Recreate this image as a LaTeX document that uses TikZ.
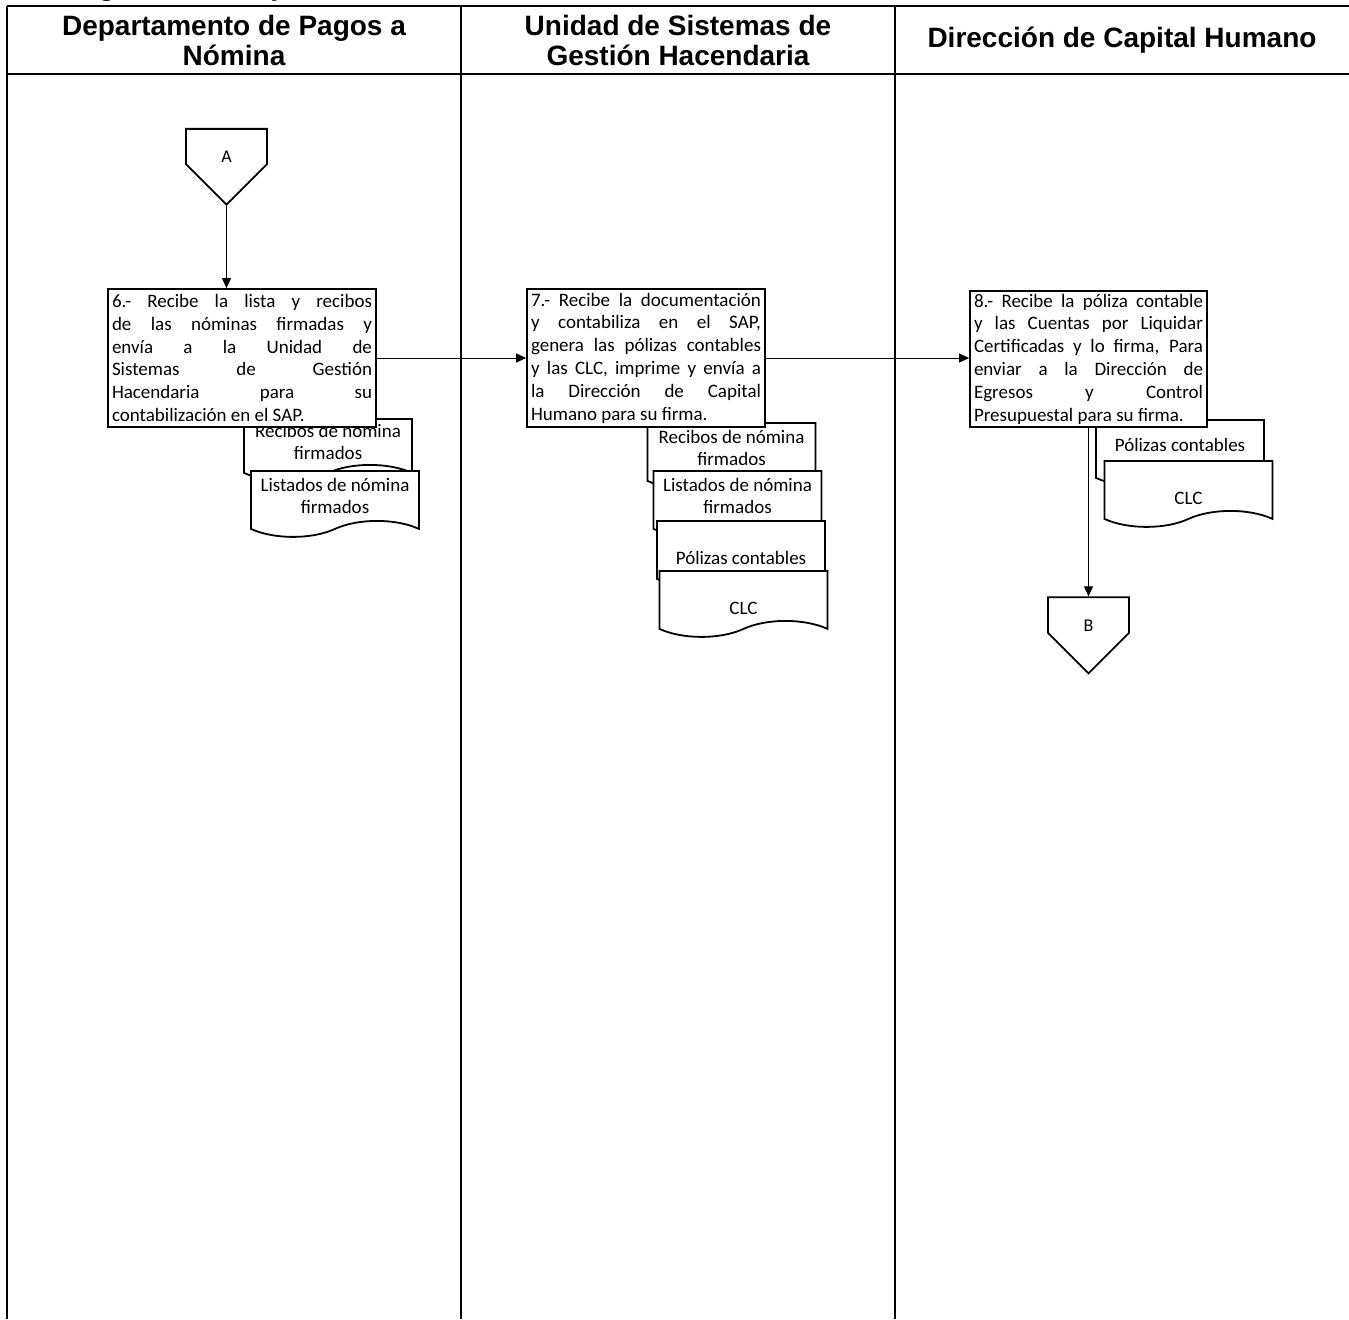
\documentclass[tikz,border=0pt]{standalone}
\usepackage{fontspec}
\setmainfont{Carlito}
\newfontfamily\headfont{Liberation Sans}
\usetikzlibrary{arrows.meta,shapes.symbols}

\begin{document}
\begin{tikzpicture}[x=0.5pt,y=-0.5pt]
\tikzset{
  lanehead/.style={font=\headfont\bfseries\fontsize{14}{15}\selectfont,align=center,inner sep=0pt},
  lanerule/.style={draw=black,line width=1pt},
  procbox/.style={rectangle,draw=black,fill=white,line width=0.9pt,inner xsep=2pt,inner ysep=0.5pt,align=justify,font=\fontsize{9.5}{11.4}\selectfont},
  docnode/.style={tape,draw=black,fill=white,line width=0.9pt,tape bend top=none,tape bend bottom=in and out,tape bend height=8pt,minimum width=84pt,minimum height=33pt,inner sep=1pt,align=center,anchor=north,font=\fontsize{9.5}{11}\selectfont},
  doclow/.style={text height=18.5pt,text depth=0pt},
  offpage/.style={signal,signal to=south,signal pointer angle=90,draw=black,fill=white,line width=0.9pt,minimum width=40.5pt,minimum height=20.25pt,inner sep=0pt,text height=16pt,text depth=0pt,font=\fontsize{9}{10}\selectfont},
  flow/.style={draw=black,line width=0.5pt,-{Triangle[length=5pt,width=4.5pt]}}
}
\fill[white] (0,0) rectangle (1349,1319);
\useasboundingbox (0,0) rectangle (1349,1319);
% swimlane frame
\node[lanehead,anchor=base west] (title) at (14,-4.5) {5.- Diagrama de Flujo};
\draw[lanerule] (7,6) -- (1349,6);
\draw[lanerule] (7,74) -- (1349,74);
\draw[lanerule] (7,6) -- (7,1319);
\draw[lanerule] (461,6) -- (461,1319);
\draw[lanerule] (895,6) -- (895,1319);
\node[lanehead] (h_pagos) at (234,40) {Departamento de Pagos a\\N\'omina};
\node[lanehead] (h_sistemas) at (678,40) {Unidad de Sistemas de\\Gesti\'on Hacendaria};
\node[lanehead] (h_capital) at (1122,40) {Direcci\'on de Capital Humano};
% documents
\node[docnode,minimum height=31pt] (d_recibos_1) at (328,418) {Recibos de n\'omina\\firmados};
\node[docnode] (d_listados_1) at (335,470) {Listados de n\'omina\\firmados};
\node[docnode] (d_recibos_2) at (731.5,422) {Recibos de n\'omina\\firmados};
\node[docnode] (d_listados_2) at (737.5,470) {Listados de n\'omina\\firmados};
\node[docnode,doclow] (d_polizas_2) at (741,520) {P\'olizas contables};
\node[docnode,doclow] (d_clc_2) at (743.5,570) {CLC};
\node[docnode] (d_polizas_3) at (1180,419) {P\'olizas contables};
\node[docnode,doclow] (d_clc_3) at (1188.5,460) {CLC};
% activities
\node[procbox,text width=130pt,minimum height=69pt] (p_6) at (242,358) {6.- Recibe la lista y recibos\linebreak
de las n\'ominas firmadas y\linebreak
env\'ia a la Unidad de\linebreak
Sistemas de Gesti\'on\linebreak
Hacendaria para su\linebreak
contabilizaci\'on en el SAP.};
\node[procbox,text width=115pt,minimum height=69pt] (p_7) at (646,358) {7.- Recibe la documentaci\'on\linebreak
y contabiliza en el SAP,\linebreak
genera las p\'olizas contables\linebreak
y las CLC, imprime y env\'ia a\linebreak
la Direcci\'on de Capital\linebreak
Humano para su firma.};
\node[procbox,text width=114.5pt,minimum height=68pt] (p_8) at (1088.5,359) {8.- Recibe la p\'oliza contable\linebreak
y las Cuentas por Liquidar\linebreak
Certificadas y lo firma, Para\linebreak
enviar a la Direcci\'on de\linebreak
Egresos y Control\linebreak
Presupuestal para su firma.};
% connectors
\node[offpage] (c_A) at (226.5,146.5) {A};
\node[offpage] (c_B) at (1088.5,615) {B};
\draw[flow] (c_A.south) -- (c_A.south |- p_6.north);
\draw[flow] (p_6.east) -- (p_7.west);
\draw[flow] (p_7.east) -- (p_7.east -| p_8.west);
\draw[flow] (p_8.south) -- (c_B.north);
\end{tikzpicture}
\end{document}
